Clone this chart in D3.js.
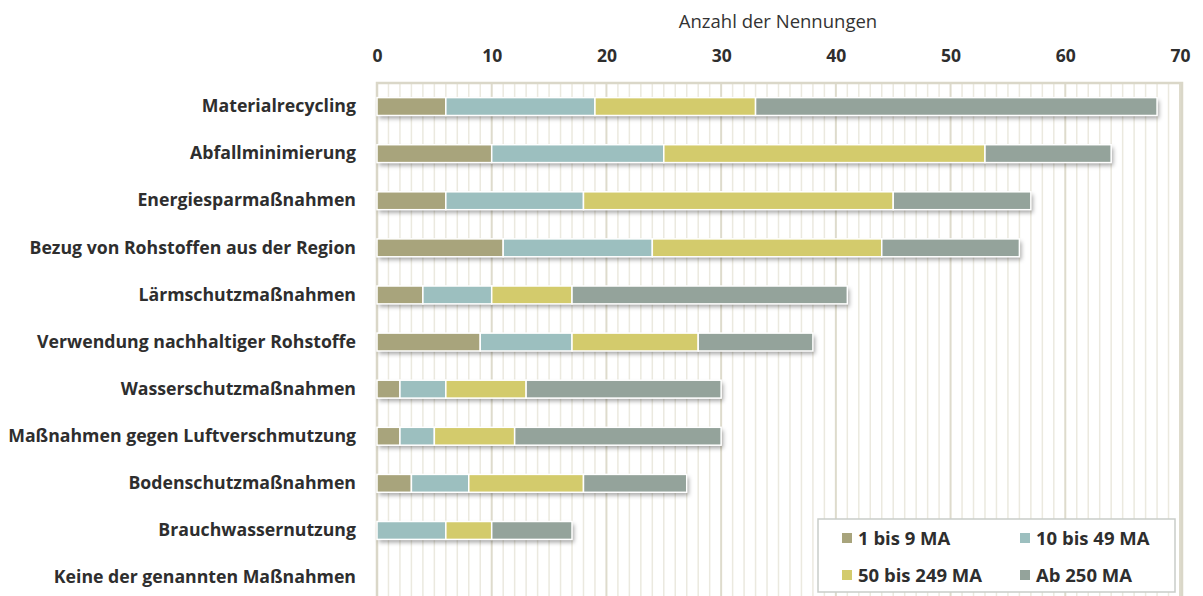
<!DOCTYPE html>
<html>
<head>
<meta charset="utf-8">
<script src="https://cdn.jsdelivr.net/npm/d3@7"></script>
<style>
body { margin: 0; background: #fff; }
svg { display: block; font-family: "Open Sans", sans-serif; }
</style>
</head>
<body>
<svg></svg>
<script>
var categories = [
    "Materialrecycling",
    "Abfallminimierung",
    "Energiesparmaßnahmen",
    "Bezug von Rohstoffen aus der Region",
    "Lärmschutzmaßnahmen",
    "Verwendung nachhaltiger Rohstoffe",
    "Wasserschutzmaßnahmen",
    "Maßnahmen gegen Luftverschmutzung",
    "Bodenschutzmaßnahmen",
    "Brauchwassernutzung",
    "Keine der genannten Maßnahmen"
]
var seriesNames = ["1 bis 9 MA", "10 bis 49 MA", "50 bis 249 MA", "Ab 250 MA"]
var small  = [6, 10, 6, 11, 4, 9, 2, 2, 3, 0, 0]
var medium = [13, 15, 12, 13, 6, 8, 4, 3, 5, 6, 0]
var large  = [14, 28, 27, 20, 7, 11, 7, 7, 10, 4, 0]
var big    = [35, 11, 12, 12, 24, 10, 17, 18, 9, 7, 0]
var xTicks = [0, 10, 20, 30, 40, 50, 60, 70]
var colors = ["#a8a47c", "#9cbfbf", "#d3cb6c", "#94a39b"]

var screen = {width: 1203, height: 596}
var margins = {top: 83, left: 377, right: 23}

var rows = categories.map(function(c, i)
{
    return {name: c, v0: small[i], v1: medium[i], v2: large[i], v3: big[i]}
})
var stack = d3.stack().keys(["v0", "v1", "v2", "v3"])(rows)

var width = screen.width - margins.left - margins.right
var bandH = 47.1
var height = bandH * categories.length

var svg = d3.select("svg")
    .attr("width", screen.width)
    .attr("height", screen.height)

var defs = svg.append("defs")
var shadow = defs.append("filter").attr("id", "shadow")
    .attr("x", "-5%").attr("y", "-30%").attr("width", "115%").attr("height", "190%")
shadow.append("feDropShadow")
    .attr("dx", 2).attr("dy", 3).attr("stdDeviation", 2.2)
    .attr("flood-color", "#000").attr("flood-opacity", 0.35)

var xScale = d3.scaleLinear().domain([0, 70]).range([0, width])
var yScale = d3.scaleBand().domain(categories).range([0, height]).paddingInner(0.62).paddingOuter(0.31)

var plot = svg.append("g")
    .attr("transform", "translate(" + margins.left + "," + margins.top + ")")

// gridlines every unit, darker every ten
plot.append("g").selectAll("line")
    .data(d3.range(1, 71))
    .enter()
    .append("line")
    .attr("x1", function(d) { return xScale(d) })
    .attr("x2", function(d) { return xScale(d) })
    .attr("y1", 0)
    .attr("y2", height)
    .attr("stroke", function(d) { return d % 10 == 0 ? "#dedbcc" : "#ebe9df" })
    .attr("stroke-width", function(d) { return d % 10 == 0 ? 2 : 1.5 })

plot.append("rect")
    .attr("x", 0).attr("y", 0)
    .attr("width", xScale(70) + 2).attr("height", height)
    .attr("fill", "none")
    .attr("stroke", "#dad7c8")
    .attr("stroke-width", 2.5)

// shadow behind each whole bar
plot.append("g").selectAll("rect")
    .data(rows.filter(function(r) { return r.v0 + r.v1 + r.v2 + r.v3 > 0 }))
    .enter()
    .append("rect")
    .attr("x", function(r) { return xScale(0) })
    .attr("y", function(r) { return yScale(r.name) })
    .attr("width", function(r) { return xScale(r.v0 + r.v1 + r.v2 + r.v3) })
    .attr("height", yScale.bandwidth())
    .attr("fill", "#fff")
    .attr("filter", "url(#shadow)")

plot.append("g").selectAll("g")
    .data(stack)
    .enter()
    .append("g")
    .attr("fill", function(s, i) { return colors[i] })
    .selectAll("rect")
    .data(function(s) { return s.filter(function(d) { return d[1] > d[0] }) })
    .enter()
    .append("rect")
    .attr("x", function(d) { return xScale(d[0]) })
    .attr("y", function(d) { return yScale(d.data.name) })
    .attr("width", function(d) { return xScale(d[1]) - xScale(d[0]) })
    .attr("height", yScale.bandwidth())
    .attr("stroke", "#fff")
    .attr("stroke-width", 1.5)

// top axis
var xAxis = d3.axisTop(xScale).tickValues(xTicks).tickSize(0).tickPadding(0)
var axisG = svg.append("g")
    .attr("transform", "translate(" + margins.left + ",62)")
    .call(xAxis)
axisG.select(".domain").remove()
axisG.selectAll("text")
    .attr("font-family", "Open Sans, sans-serif")
    .attr("font-size", 17.5)
    .attr("font-weight", "bold")
    .attr("fill", "#2e2e2e")

svg.append("text")
    .attr("x", 778).attr("y", 28)
    .attr("text-anchor", "middle")
    .attr("font-size", 18.5)
    .attr("fill", "#333")
    .text("Anzahl der Nennungen")

// category labels
var yAxis = d3.axisLeft(yScale).tickSize(0).tickPadding(21)
var yG = svg.append("g")
    .attr("transform", "translate(" + margins.left + "," + margins.top + ")")
    .call(yAxis)
yG.select(".domain").remove()
yG.selectAll("text")
    .attr("font-family", "Open Sans, sans-serif")
    .attr("font-size", 17.7)
    .attr("font-weight", "bold")
    .attr("fill", "#2e2e2e")

// legend
var legend = svg.append("g").attr("transform", "translate(818,519)")
legend.append("rect")
    .attr("width", 357).attr("height", 73)
    .attr("fill", "#fff")
    .attr("stroke", "#c9cdc9")
    .attr("stroke-width", 1.5)
var items = legend.selectAll("g.item")
    .data(seriesNames)
    .enter()
    .append("g")
    .attr("class", "item")
    .attr("transform", function(d, i) { return "translate(" + (i % 2 == 0 ? 24 : 202) + "," + (i < 2 ? 19 : 56) + ")" })
items.append("rect")
    .attr("x", 0).attr("y", -5)
    .attr("width", 10).attr("height", 10)
    .attr("fill", function(d, i) { return colors[i] })
items.append("text")
    .attr("x", 16).attr("y", 6.5)
    .attr("font-size", 18.5)
    .attr("font-weight", "bold")
    .attr("fill", "#2e2e2e")
    .text(function(d) { return d })
</script>
</body>
</html>
